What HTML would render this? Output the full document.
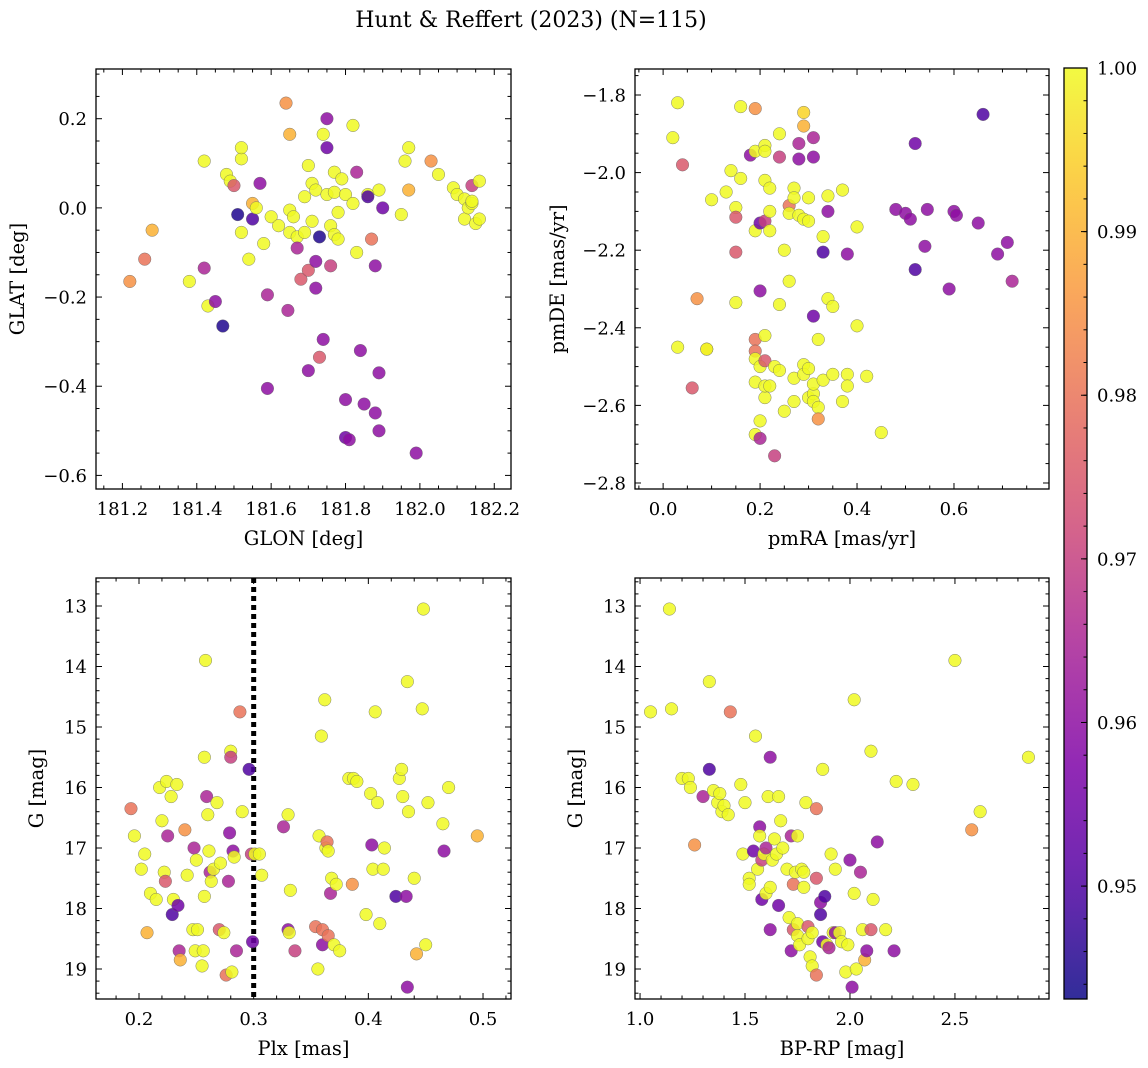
<!DOCTYPE html>
<html><head><meta charset="utf-8">
<style>
html,body{margin:0;padding:0;background:#fff;}
svg{display:block;font-family:"DejaVu Serif","Liberation Serif",serif;}
</style></head>
<body>
<svg id="fig" width="1148" height="1068" viewBox="0 0 1148 1068">
<text x="531" y="27" text-anchor="middle" font-size="22">Hunt &amp; Reffert (2023) (N=115)</text>
</svg>
<script>
// ---- data: [x, y, probability] ----
const posData = [[181.22,-0.165,0.985],[181.26,-0.115,0.98],[181.28,-0.05,0.99],[181.38,-0.165,1],[181.42,0.105,1],[181.42,-0.135,0.965],[181.43,-0.22,1],[181.45,-0.21,0.96],[181.47,-0.265,0.945],[181.48,0.075,1],[181.49,0.06,1],[181.5,0.05,0.975],[181.51,-0.015,0.945],[181.52,0.11,1],[181.52,0.135,1],[181.52,-0.055,1],[181.54,-0.115,1],[181.55,-0.025,0.95],[181.55,0.01,0.99],[181.56,0.0,1],[181.57,0.055,0.96],[181.58,-0.08,1],[181.59,-0.195,0.965],[181.59,-0.405,0.96],[181.6,-0.02,1],[181.62,-0.04,1],[181.64,0.235,0.985],[181.645,-0.23,0.965],[181.65,0.165,0.99],[181.65,-0.005,1],[181.65,-0.055,1],[181.66,-0.02,1],[181.67,-0.065,1],[181.67,-0.09,0.965],[181.68,-0.16,0.975],[181.69,-0.055,1],[181.69,0.025,1],[181.7,-0.14,0.975],[181.7,-0.365,0.96],[181.7,0.095,1],[181.71,0.055,1],[181.71,-0.03,1],[181.72,0.04,1],[181.72,-0.12,0.96],[181.72,-0.18,0.96],[181.73,-0.065,0.945],[181.73,-0.335,0.975],[181.74,-0.295,0.96],[181.74,0.165,1],[181.75,0.135,0.955],[181.75,0.2,0.96],[181.75,0.03,1],[181.76,-0.13,0.97],[181.76,-0.04,1],[181.77,0.035,1],[181.77,-0.06,1],[181.77,0.08,1],[181.78,-0.01,1],[181.78,-0.07,1],[181.79,0.065,1],[181.8,0.03,1],[181.8,-0.43,0.96],[181.8,-0.515,0.955],[181.81,-0.52,0.96],[181.82,0.185,1],[181.82,0.01,1],[181.83,0.08,0.965],[181.83,-0.1,1],[181.84,-0.32,0.96],[181.85,-0.44,0.96],[181.86,0.03,1],[181.86,0.025,0.95],[181.87,-0.07,0.98],[181.88,-0.13,0.96],[181.88,-0.46,0.96],[181.89,-0.37,0.96],[181.89,-0.5,0.96],[181.89,0.04,1],[181.9,0.0,0.955],[181.95,-0.015,1],[181.96,0.105,1],[181.97,0.135,1],[181.97,0.04,0.99],[181.99,-0.55,0.96],[182.03,0.105,0.985],[182.05,0.075,1],[182.09,0.045,1],[182.1,0.03,1],[182.12,0.02,1],[182.12,-0.025,1],[182.13,0.0,1],[182.14,0.01,1],[182.14,0.05,0.97],[182.15,-0.035,1],[182.16,0.06,1],[182.16,-0.025,1],[182.14,0.015,1]];
const pmData = [[0.02,-1.91,1],[0.03,-1.82,1],[0.04,-1.98,0.975],[0.03,-2.45,1],[0.06,-2.555,0.975],[0.07,-2.325,0.985],[0.09,-2.455,0.99],[0.09,-2.455,1],[0.1,-2.07,1],[0.13,-2.05,1],[0.14,-1.995,1],[0.15,-2.09,1],[0.15,-2.115,0.975],[0.15,-2.205,0.975],[0.15,-2.335,1],[0.16,-1.83,1],[0.16,-2.015,1],[0.18,-1.955,0.96],[0.19,-1.835,0.985],[0.19,-1.945,1],[0.19,-2.15,1],[0.19,-2.43,0.98],[0.19,-2.46,0.98],[0.19,-2.48,1],[0.19,-2.54,1],[0.19,-2.675,1],[0.2,-2.13,0.955],[0.2,-2.305,0.96],[0.2,-2.5,1],[0.2,-2.64,1],[0.2,-2.685,0.965],[0.21,-1.93,1],[0.21,-1.945,1],[0.21,-2.02,1],[0.21,-2.125,0.97],[0.21,-2.42,1],[0.21,-2.485,0.975],[0.21,-2.58,1],[0.21,-2.55,1],[0.22,-2.04,1],[0.22,-2.1,1],[0.22,-2.15,1],[0.22,-2.55,1],[0.23,-2.5,1],[0.23,-2.73,0.97],[0.24,-1.9,1],[0.24,-1.96,0.97],[0.24,-2.34,1],[0.24,-2.51,1],[0.25,-2.2,1],[0.25,-2.615,1],[0.26,-2.085,0.98],[0.26,-2.105,1],[0.26,-2.28,1],[0.27,-2.04,1],[0.27,-2.065,1],[0.27,-2.53,1],[0.27,-2.59,1],[0.28,-1.965,0.96],[0.28,-1.925,0.965],[0.28,-2.11,1],[0.29,-2.495,1],[0.29,-2.52,1],[0.29,-1.88,0.99],[0.29,-2.12,1],[0.29,-1.845,0.995],[0.3,-2.065,1],[0.3,-2.505,1],[0.3,-2.58,1],[0.3,-2.125,1],[0.31,-1.91,0.965],[0.31,-1.96,0.96],[0.31,-2.37,0.955],[0.31,-2.57,1],[0.31,-2.59,1],[0.31,-2.545,1],[0.32,-2.43,1],[0.32,-2.605,1],[0.32,-2.635,0.985],[0.33,-2.165,1],[0.33,-2.205,0.95],[0.33,-2.535,1],[0.34,-2.06,1],[0.34,-2.1,0.96],[0.34,-2.325,1],[0.35,-2.52,1],[0.35,-2.345,1],[0.37,-2.045,1],[0.37,-2.59,1],[0.38,-2.52,1],[0.38,-2.55,1],[0.38,-2.21,0.96],[0.4,-2.14,1],[0.4,-2.395,1],[0.42,-2.525,1],[0.45,-2.67,1],[0.48,-2.095,0.96],[0.5,-2.105,0.96],[0.51,-2.12,0.96],[0.52,-1.925,0.955],[0.52,-2.25,0.95],[0.54,-2.19,0.96],[0.545,-2.095,0.96],[0.59,-2.3,0.96],[0.6,-2.1,0.96],[0.605,-2.11,0.96],[0.65,-2.13,0.96],[0.66,-1.85,0.95],[0.69,-2.21,0.96],[0.71,-2.18,0.96],[0.72,-2.28,0.965]];
const plxData = [[0.193,16.35,0.98],[0.196,16.8,1],[0.202,17.35,1],[0.205,17.1,1],[0.207,18.4,0.99],[0.21,17.75,1],[0.215,17.85,1],[0.218,16.0,1],[0.22,16.55,1],[0.222,17.4,1],[0.223,17.55,0.975],[0.224,15.9,1],[0.225,16.8,0.965],[0.228,16.15,1],[0.229,18.1,0.95],[0.23,17.85,1],[0.233,15.95,1],[0.234,17.95,0.955],[0.235,18.7,0.965],[0.236,18.85,0.99],[0.24,16.7,0.985],[0.242,17.45,1],[0.247,18.35,1],[0.248,17.0,0.965],[0.249,18.7,1],[0.25,17.2,1],[0.251,18.35,1],[0.255,18.95,1],[0.256,18.7,1],[0.257,15.5,1],[0.257,17.8,1],[0.258,13.9,1],[0.259,16.15,0.965],[0.26,16.45,1],[0.261,17.05,1],[0.262,17.4,0.965],[0.263,17.55,1],[0.265,17.35,1],[0.268,16.25,1],[0.27,18.35,0.975],[0.271,17.25,1],[0.274,18.4,1],[0.276,19.1,0.98],[0.278,17.55,0.965],[0.279,16.75,0.96],[0.28,15.4,1],[0.28,15.5,0.97],[0.281,19.05,1],[0.282,17.05,0.96],[0.283,17.15,1],[0.285,18.7,0.965],[0.288,14.75,0.98],[0.29,16.4,1],[0.296,15.7,0.95],[0.298,17.1,0.97],[0.299,18.55,0.955],[0.301,17.1,1],[0.305,17.1,1],[0.307,17.45,1],[0.326,16.65,0.965],[0.33,16.45,1],[0.33,18.35,0.96],[0.331,18.4,1],[0.332,17.7,1],[0.336,18.7,0.97],[0.354,18.3,0.98],[0.356,19.0,1],[0.357,16.8,1],[0.359,15.15,1],[0.36,18.35,0.98],[0.36,18.6,0.96],[0.362,14.55,1],[0.363,17.0,1],[0.364,16.9,0.98],[0.365,18.45,0.98],[0.365,17.05,1],[0.367,17.75,0.965],[0.368,17.5,1],[0.37,18.6,1],[0.372,17.6,1],[0.375,18.7,1],[0.383,15.85,1],[0.386,17.6,0.985],[0.387,15.85,1],[0.39,15.9,1],[0.398,18.1,1],[0.402,16.1,1],[0.403,16.95,0.96],[0.404,17.35,1],[0.406,14.75,1],[0.408,16.25,1],[0.41,18.25,1],[0.413,17.35,1],[0.414,17.0,1],[0.424,17.8,0.95],[0.427,15.85,1],[0.429,15.7,1],[0.43,16.15,1],[0.433,17.8,0.96],[0.434,14.25,1],[0.435,16.4,1],[0.434,19.3,0.96],[0.44,17.5,1],[0.442,18.75,0.99],[0.447,14.7,1],[0.448,13.05,1],[0.45,18.6,1],[0.452,16.25,1],[0.465,16.6,1],[0.466,17.05,0.96],[0.47,16.0,1],[0.495,16.8,0.99]];
const cmdData = [[1.05,14.75,1],[1.14,13.05,1],[1.15,14.7,1],[1.2,15.85,1],[1.23,15.85,1],[1.24,16.0,1],[1.26,16.95,0.985],[1.3,16.15,0.965],[1.33,14.25,1],[1.33,15.7,0.95],[1.35,16.05,1],[1.37,16.25,1],[1.38,16.1,1],[1.39,16.4,1],[1.4,16.3,1],[1.42,16.45,1],[1.43,14.75,0.98],[1.48,15.95,1],[1.49,17.1,1],[1.5,16.25,1],[1.52,17.5,1],[1.52,17.6,1],[1.54,17.05,0.955],[1.55,15.15,1],[1.56,17.35,1],[1.57,16.65,0.96],[1.57,16.8,1],[1.58,17.2,0.97],[1.58,17.85,0.955],[1.59,17.1,1],[1.6,17.0,0.965],[1.6,17.75,1],[1.61,16.15,1],[1.62,15.5,0.96],[1.62,17.65,1],[1.62,18.35,0.96],[1.63,17.2,1],[1.64,16.85,1],[1.65,17.1,1],[1.66,16.15,1],[1.66,17.95,0.955],[1.67,16.55,1],[1.68,17.0,1],[1.7,17.35,1],[1.71,18.15,1],[1.72,16.8,0.965],[1.72,18.7,0.96],[1.73,17.6,0.98],[1.73,18.35,0.975],[1.74,17.4,1],[1.75,18.25,1],[1.75,16.8,1],[1.75,18.45,1],[1.76,18.6,1],[1.77,17.35,1],[1.78,17.4,1],[1.78,17.65,1],[1.79,16.25,1],[1.8,18.3,0.975],[1.8,18.5,1],[1.81,18.8,1],[1.82,18.95,1],[1.82,18.4,1],[1.84,16.35,0.98],[1.84,17.5,0.975],[1.84,19.1,0.98],[1.86,18.1,0.95],[1.86,17.9,0.96],[1.87,18.55,0.955],[1.87,15.7,1],[1.88,17.8,0.95],[1.89,18.6,1],[1.9,18.65,0.965],[1.91,17.1,1],[1.92,18.4,1],[1.93,18.4,0.96],[1.93,17.35,1],[1.95,18.4,1],[1.96,18.55,1],[1.98,19.05,1],[1.99,18.6,1],[2.0,17.2,0.96],[2.01,19.3,0.96],[2.02,14.55,1],[2.02,17.75,1],[2.03,19.0,1],[2.05,17.4,0.965],[2.06,18.35,1],[2.07,18.85,0.99],[2.08,18.7,0.96],[2.1,15.4,1],[2.1,18.35,0.975],[2.11,17.85,1],[2.13,16.9,0.96],[2.17,18.35,1],[2.21,18.7,0.96],[2.22,15.9,1],[2.3,15.95,1],[2.5,13.9,1],[2.58,16.7,0.985],[2.62,16.4,1],[2.85,15.5,1]];
const cbTicks = [0.95,0.96,0.97,0.98,0.99,1.00];
const cMin = 0.9431, cMax = 1.0;
const plxCut = 0.30;

const NS='http://www.w3.org/2000/svg';
const svg=document.getElementById('fig');
function mk(tag,attrs,parent){const e=document.createElementNS(NS,tag);for(const k in attrs)e.setAttribute(k,attrs[k]);(parent||svg).appendChild(e);return e;}
const stops=[[0,[13,8,135]],[0.13,[84,2,163]],[0.25,[126,3,168]],[0.38,[168,34,150]],[0.5,[204,71,120]],[0.63,[230,108,92]],[0.75,[248,149,64]],[0.88,[252,197,39]],[1,[240,249,33]]];
function cmap(t){t=Math.max(0,Math.min(1,t));for(let i=1;i<stops.length;i++){if(t<=stops[i][0]){const a=stops[i-1],b=stops[i];const f=(t-a[0])/(b[0]-a[0]);const c=a[1].map((v,j)=>Math.round(v+(b[1][j]-v)*f));return `rgb(${c[0]},${c[1]},${c[2]})`;}}return 'rgb(240,249,33)';}
function fmt(v,d){if(Math.abs(v)<1e-9)v=0;return v.toFixed(d).replace('-','\u2212');}
const TF=18, LF=19.5;

function panel(o){
  const {x0,y0,x1,y1,xmin,xmax,ymin,ymax,invert}=o;
  const sx=v=>x0+(v-xmin)/(xmax-xmin)*(x1-x0);
  const sy=invert? v=>y0+(v-ymin)/(ymax-ymin)*(y1-y0) : v=>y1-(v-ymin)/(ymax-ymin)*(y1-y0);
  const g=mk('g',{});
  
  
  const clip='clip-'+o.name;
  const cp=mk('clipPath',{id:clip},g);mk('rect',{x:x0,y:y0,width:x1-x0,height:y1-y0},cp);
  const pts=mk('g',{'clip-path':`url(#${clip})`},g);
  if(o.vline!==undefined){const l=mk('line',{x1:sx(o.vline),x2:sx(o.vline),y1:y0,y2:y1,stroke:'#000','stroke-width':5,'stroke-dasharray':'5,4'},pts);
    
    }
  o.data.forEach((d,i)=>{
    const c=mk('circle',{cx:sx(d[0]),cy:sy(d[1]),r:6.3,fill:cmap((d[2]-cMin)/(cMax-cMin)),'fill-opacity':0.85,stroke:'#666','stroke-width':0.5,'stroke-opacity':0.8},pts);
    
    
  });
  mk('rect',{x:x0,y:y0,width:x1-x0,height:y1-y0,fill:'none',stroke:'#000','stroke-width':1.3},g);
  const eps=1e-9;
  for(let k=Math.ceil(xmin/o.xminor-eps);k*o.xminor<=xmax+eps;k++){
    const v=k*o.xminor;
    const major=Math.abs(v/o.xmajor-Math.round(v/o.xmajor))<1e-6;const L=major?6:3.5;const X=sx(v);
    mk('line',{x1:X,x2:X,y1:y1,y2:y1-L,stroke:'#000','stroke-width':1},g);
    mk('line',{x1:X,x2:X,y1:y0,y2:y0+L,stroke:'#000','stroke-width':1},g);
    if(major){const t=mk('text',{x:X,y:y1+26,'text-anchor':'middle','font-size':TF},g);t.textContent=fmt(v,o.xdec);
      
      }
  }
  for(let k=Math.ceil(ymin/o.yminor-eps);k*o.yminor<=ymax+eps;k++){
    const v=k*o.yminor;
    const major=Math.abs(v/o.ymajor-Math.round(v/o.ymajor))<1e-6;const L=major?6:3.5;const Y=sy(v);
    mk('line',{x1:x0,x2:x0+L,y1:Y,y2:Y,stroke:'#000','stroke-width':1},g);
    mk('line',{x1:x1,x2:x1-L,y1:Y,y2:Y,stroke:'#000','stroke-width':1},g);
    if(major){const t=mk('text',{x:x0-9,y:Y+6.5,'text-anchor':'end','font-size':TF},g);t.textContent=fmt(v,o.ydec);
      
      }
  }
  const xl=mk('text',{x:(x0+x1)/2,y:y1+56,'text-anchor':'middle','font-size':LF},g);xl.textContent=o.xlabel;
  
  
  const yx=o.ylx, ym=(y0+y1)/2;
  const yl=mk('text',{x:yx,y:ym,'text-anchor':'middle','font-size':LF,transform:`rotate(-90 ${yx} ${ym})`},g);yl.textContent=o.ylabel;
  
  
}
panel({name:'position-panel',x0:96,y0:69,x1:511,y1:489,xmin:181.129,xmax:182.245,ymin:-0.6305,ymax:0.3115,xmajor:0.2,xminor:0.05,ymajor:0.2,yminor:0.05,xdec:1,ydec:1,data:posData,xlabel:'GLON [deg]',ylabel:'GLAT [deg]',ylx:24});
panel({name:'proper-motion-panel',x0:635,y0:69,x1:1049,y1:489,xmin:-0.058,xmax:0.796,ymin:-2.8155,ymax:-1.733,xmajor:0.2,xminor:0.05,ymajor:0.2,yminor:0.05,xdec:1,ydec:1,data:pmData,xlabel:'pmRA [mas/yr]',ylabel:'pmDE [mas/yr]',ylx:564});
panel({name:'parallax-panel',x0:96,y0:578,x1:511,y1:999,xmin:0.1625,xmax:0.5244,ymin:12.537,ymax:19.496,invert:true,xmajor:0.1,xminor:0.02,ymajor:1,yminor:0.2,xdec:1,ydec:0,data:plxData,xlabel:'Plx [mas]',ylabel:'G [mag]',ylx:43,vline:plxCut});
panel({name:'cmd-panel',x0:635,y0:578,x1:1049,y1:999,xmin:0.976,xmax:2.948,ymin:12.537,ymax:19.496,invert:true,xmajor:0.5,xminor:0.1,ymajor:1,yminor:0.2,xdec:1,ydec:0,data:cmdData,xlabel:'BP-RP [mag]',ylabel:'G [mag]',ylx:582});

const cb=mk('g',{});


const defs=mk('defs',{},cb);
const lg=mk('linearGradient',{id:'cbgrad',x1:0,y1:1,x2:0,y2:0},defs);
for(let i=0;i<=20;i++){mk('stop',{offset:i/20,'stop-color':cmap(i/20),'stop-opacity':0.85},lg);}
const cbx0=1064,cbx1=1087,cby0=68,cby1=999;
mk('rect',{x:cbx0,y:cby0,width:cbx1-cbx0,height:cby1-cby0,fill:'url(#cbgrad)',stroke:'#000','stroke-width':1.3},cb);
const cy=v=>cby1-(v-cMin)/(cMax-cMin)*(cby1-cby0);
for(let k=472;k<=500;k++){const Y=cy(k*0.002);mk('line',{x1:cbx1,x2:cbx1-3.5,y1:Y,y2:Y,stroke:'#000','stroke-width':1},cb);}
cbTicks.forEach(v=>{const Y=cy(v);mk('line',{x1:cbx1,x2:cbx1-6,y1:Y,y2:Y,stroke:'#000','stroke-width':1},cb);
  const t=mk('text',{x:cbx1+10,y:Y+6.5,'font-size':TF},cb);t.textContent=v.toFixed(2);
  
  });
</script>
</body></html>
